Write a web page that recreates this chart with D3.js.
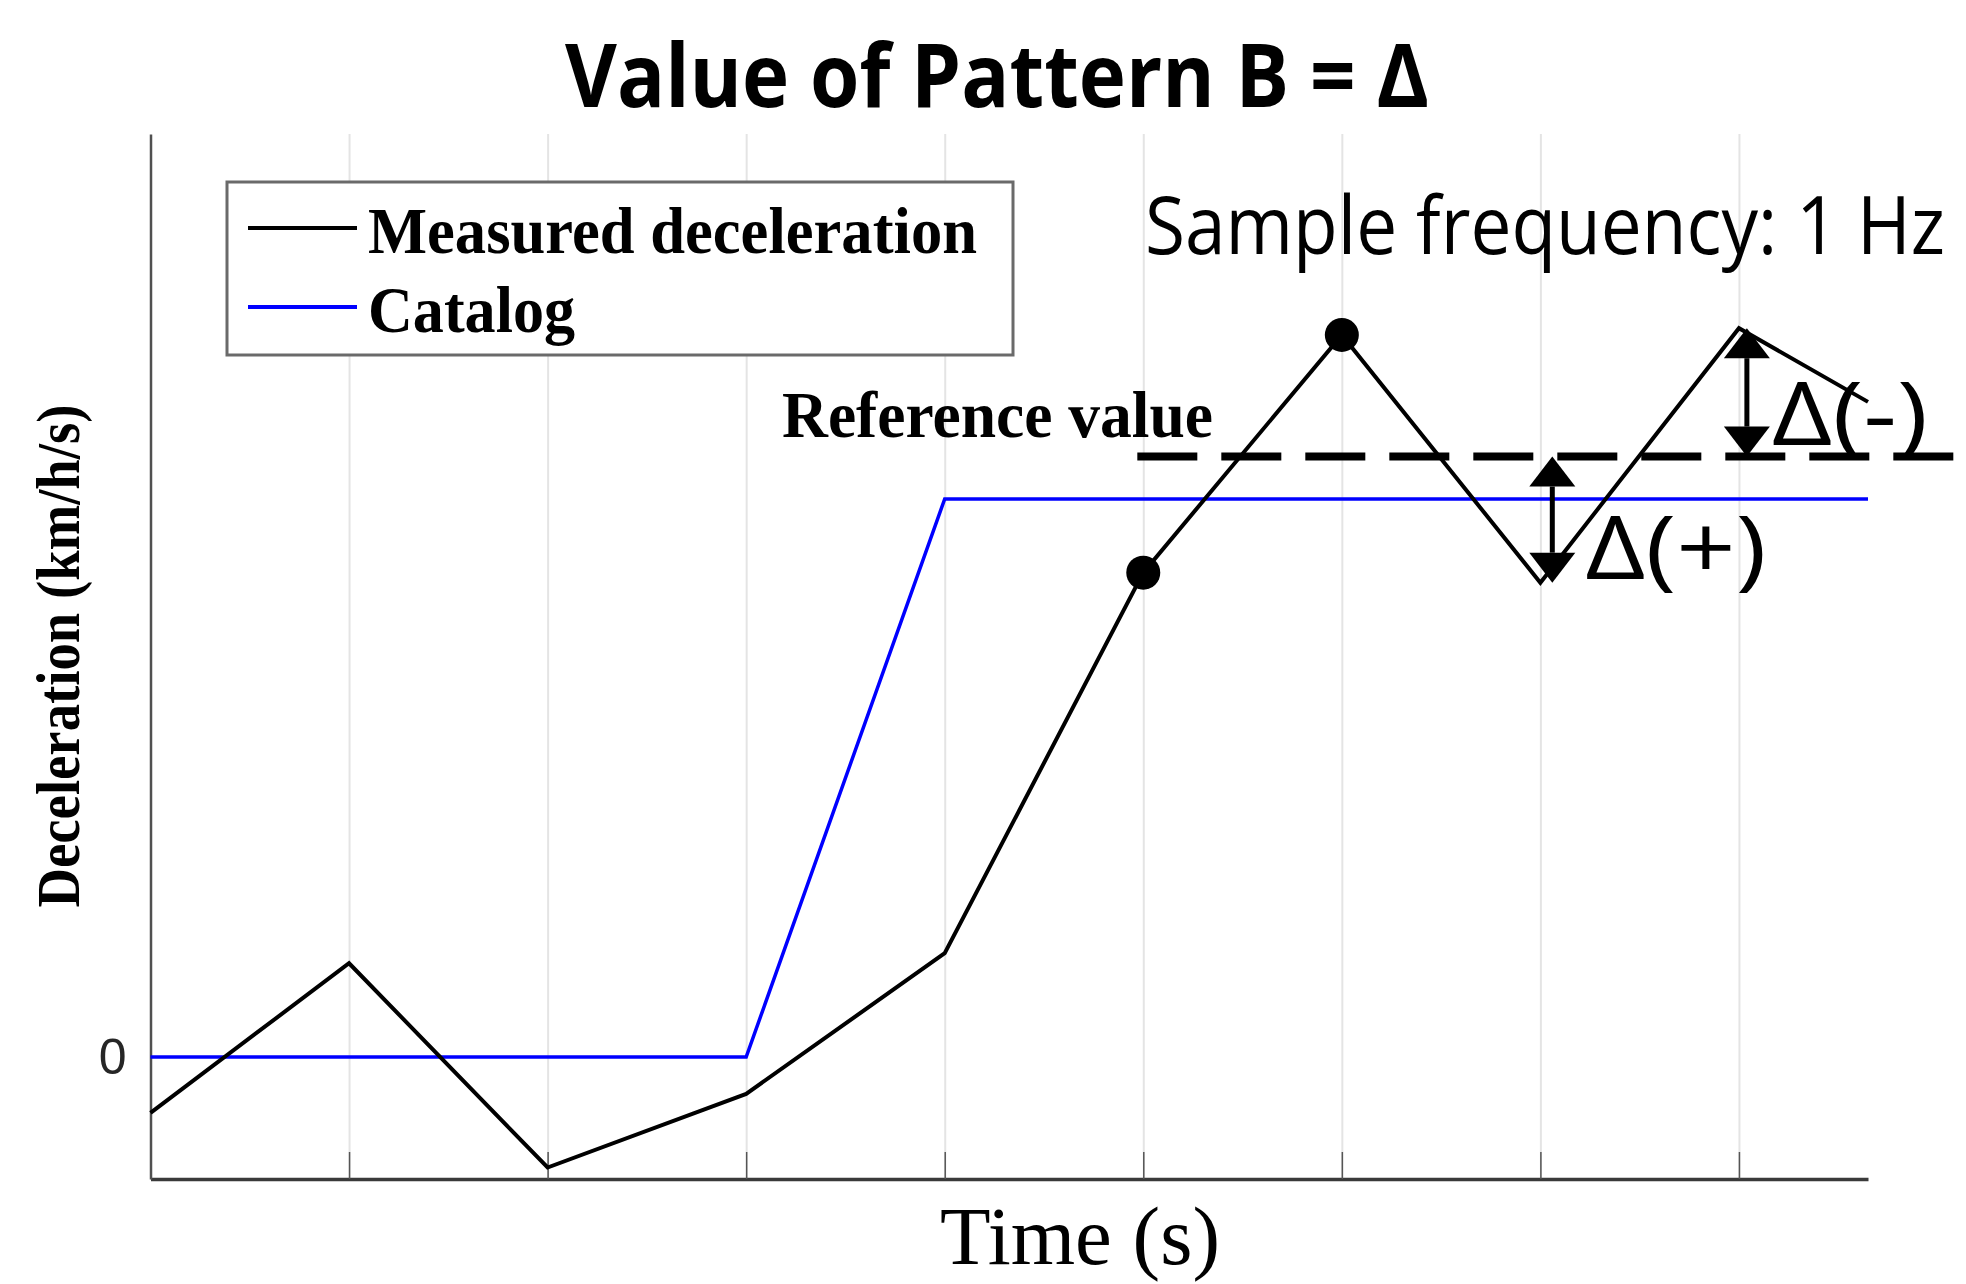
<!DOCTYPE html>
<html>
<head>
<meta charset="utf-8">
<script src="https://cdn.jsdelivr.net/npm/d3@7"></script>
<style>
    html, body { margin: 0; padding: 0; background: #fff; }
    svg { display: block; }
</style>
</head>
<body>
<div id="chart"></div>
<script>
// values (deceleration in arbitrary units, catalog = 5)
const timeTicks = [1, 2, 3, 4, 5, 6, 7, 8];
const yTicks = [0];
const measuredTime = [0, 1, 2, 3, 4, 5, 6, 7, 8, 8.65];
const measuredDecel = [-0.5, 0.84, -0.99, -0.33, 0.93, 4.34, 6.47, 4.25, 6.53, 5.87];
const markedPoints = [5, 6];
const catalogTime = [0, 3, 4, 8.65];
const catalogDecel = [0, 0, 5, 5];
const referenceValue = 5.38;
const referenceSpan = [4.97, 9.15];
const deltaTime = [7.06, 8.04];
const deltaTo = [4.25, 6.53];
const deltaLabels = ['Δ(+)', 'Δ(-)'];
const legendLabels = ['Measured deceleration', 'Catalog'];
const legendColors = ['#000', '#0000ff'];

const width = 1966;
const height = 1284;
const margin = { top: 134, right: 98, bottom: 105, left: 150.5 };
const serif = '"Liberation Serif", "Times New Roman", serif';
const sans = '"Open Sans", "Noto Sans", sans-serif';

const svg = d3.select('#chart')
    .append('svg')
    .attr('width', width)
    .attr('height', height);

const x = d3.scaleLinear()
    .domain([0, 8.65])
    .range([margin.left, width - margin.right]);

const y = d3.scaleLinear()
    .domain([-1.093, 8.27])
    .range([height - margin.bottom, margin.top]);

const plotBottom = height - margin.bottom;

// vertical grid
svg.append('g')
    .attr('transform', `translate(0,${plotBottom})`)
    .call(d3.axisBottom(x).tickValues(timeTicks).tickSize(-(plotBottom - margin.top)).tickFormat(''))
    .call(g => g.select('.domain').remove())
    .call(g => g.selectAll('line').attr('stroke', '#e4e4e4').attr('stroke-width', 2));

// x axis with inner ticks
svg.append('g')
    .attr('transform', `translate(0,${plotBottom})`)
    .call(d3.axisBottom(x).tickValues(timeTicks).tickSizeInner(-27).tickSizeOuter(0).tickFormat(''))
    .call(g => g.select('.domain').attr('stroke', '#3a3a3a').attr('stroke-width', 3.5))
    .call(g => g.selectAll('line').attr('stroke', '#555').attr('stroke-width', 1.5));

// y axis
svg.append('g')
    .attr('transform', `translate(${margin.left},0)`)
    .call(d3.axisLeft(y).tickValues(yTicks).tickSize(0).tickPadding(24))
    .call(g => g.select('.domain').attr('stroke', '#505050').attr('stroke-width', 2.5))
    .call(g => g.selectAll('text')
        .attr('font-family', '"Liberation Sans", Arial, sans-serif')
        .attr('font-size', 50)
        .attr('fill', '#262626'));

const line = d3.line()
    .x(d => x(d[0]))
    .y(d => y(d[1]));

svg.append('path')
    .datum(d3.zip(catalogTime, catalogDecel))
    .attr('d', line)
    .attr('fill', 'none')
    .attr('stroke', '#0000ff')
    .attr('stroke-width', 3.5);

svg.append('path')
    .datum(d3.zip(measuredTime, measuredDecel))
    .attr('d', line)
    .attr('fill', 'none')
    .attr('stroke', '#000')
    .attr('stroke-width', 4)
    .attr('stroke-linejoin', 'miter');

svg.selectAll('.dot')
    .data(markedPoints)
    .join('circle')
    .attr('class', 'dot')
    .attr('cx', i => x(measuredTime[i]))
    .attr('cy', i => y(measuredDecel[i]))
    .attr('r', 17)
    .attr('fill', '#000');

// reference value
svg.append('line')
    .attr('x1', x(referenceSpan[0]))
    .attr('x2', x(referenceSpan[1]))
    .attr('y1', y(referenceValue))
    .attr('y2', y(referenceValue))
    .attr('stroke', '#000')
    .attr('stroke-width', 8)
    .attr('stroke-dasharray', '60 24');

svg.append('text')
    .attr('x', 782)
    .attr('y', y(referenceValue) - 20)
    .attr('font-family', serif)
    .attr('font-weight', 'bold')
    .attr('font-size', 66)
    .attr('textLength', 431)
    .attr('lengthAdjust', 'spacingAndGlyphs')
    .text('Reference value');

// delta arrows
const headLen = 30;
const headHalf = 23;
deltaTime.forEach((t, i) => {
    const ax = x(t);
    const y0 = y(referenceValue);
    const y1 = y(deltaTo[i]);
    const dir = Math.sign(y1 - y0);
    const g = svg.append('g');
    g.append('line')
        .attr('x1', ax).attr('x2', ax)
        .attr('y1', y0 + dir * headLen).attr('y2', y1 - dir * headLen)
        .attr('stroke', '#000')
        .attr('stroke-width', 5);
    [[y0, dir], [y1, -dir]].forEach(([tip, d]) => {
        g.append('path')
            .attr('d', `M${ax},${tip}L${ax - headHalf},${tip + d * headLen}L${ax + headHalf},${tip + d * headLen}Z`)
            .attr('fill', '#000');
    });
    g.append('text')
        .attr('x', ax + (i === 0 ? 33 : 25))
        .attr('y', i === 0 ? y1 - 4 : y0 - 12)
        .attr('font-family', sans)
        .attr('font-weight', 500)
        .attr('font-size', 88)
        .attr('textLength', i === 0 ? 181 : 156)
        .attr('lengthAdjust', 'spacingAndGlyphs')
        .text(deltaLabels[i]);
});

// legend
const legend = svg.append('g');
legend.append('rect')
    .attr('x', 227)
    .attr('y', 182)
    .attr('width', 786)
    .attr('height', 173)
    .attr('fill', '#fff')
    .attr('stroke', '#6a6a6a')
    .attr('stroke-width', 3);

legendLabels.forEach((label, i) => {
    const ly = 228 + i * 79;
    legend.append('line')
        .attr('x1', 248).attr('x2', 357)
        .attr('y1', ly).attr('y2', ly)
        .attr('stroke', legendColors[i])
        .attr('stroke-width', 4);
    legend.append('text')
        .attr('x', 368)
        .attr('y', ly + 25)
        .attr('font-family', serif)
        .attr('font-weight', 'bold')
        .attr('font-size', 66)
        .attr('textLength', i === 0 ? 609 : 207)
        .attr('lengthAdjust', 'spacingAndGlyphs')
        .text(label);
});

// titles
svg.append('text')
    .attr('x', 565)
    .attr('y', 107)
    .attr('font-family', sans)
    .attr('font-weight', 'bold')
    .attr('font-size', 88)
    .attr('textLength', 864)
    .attr('lengthAdjust', 'spacingAndGlyphs')
    .text('Value of Pattern B = Δ');

// squeeze horizontally with a transform so the box stays inside the page
const sample = svg.append('text')
    .attr('font-family', sans)
    .attr('font-weight', 500)
    .attr('font-size', 80)
    .text('Sample frequency: 1 Hz');
const sampleScale = 800 / sample.node().getComputedTextLength();
sample.attr('transform', `translate(1145,254) scale(${sampleScale},1)`);

svg.append('text')
    .attr('x', 940)
    .attr('y', 1264)
    .attr('font-family', serif)
    .attr('font-size', 82)
    .attr('textLength', 280)
    .attr('lengthAdjust', 'spacingAndGlyphs')
    .text('Time (s)');

svg.append('text')
    .attr('transform', 'translate(79,656) rotate(-90)')
    .attr('text-anchor', 'middle')
    .attr('font-family', serif)
    .attr('font-weight', 'bold')
    .attr('font-size', 62)
    .attr('textLength', 503)
    .attr('lengthAdjust', 'spacingAndGlyphs')
    .text('Deceleration (km/h/s)');
</script>
</body>
</html>
